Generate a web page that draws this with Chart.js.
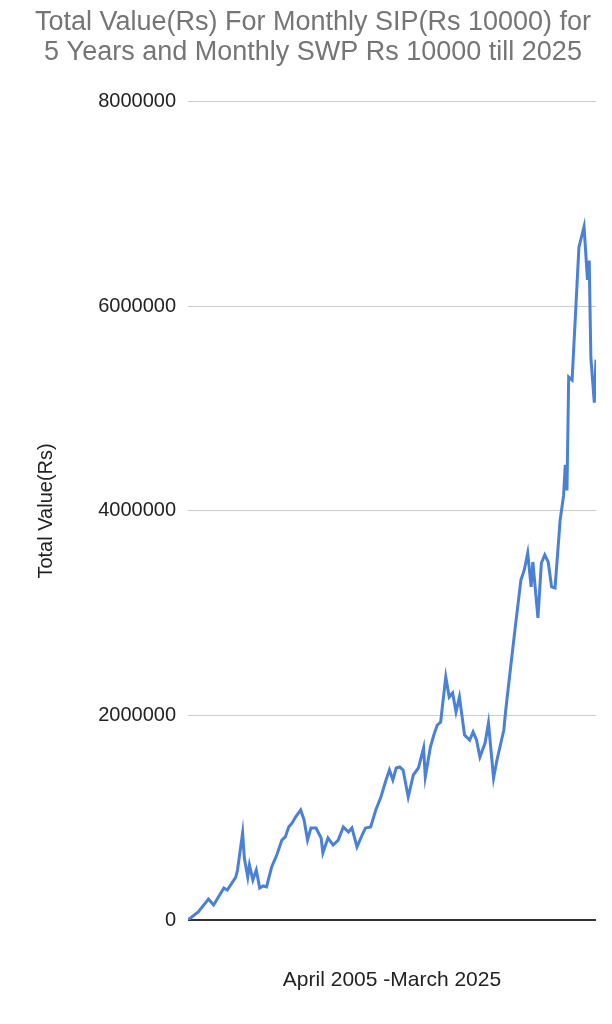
<!DOCTYPE html>
<html>
<head>
<meta charset="utf-8">
<script src="https://cdn.jsdelivr.net/npm/chart.js@4"></script>
<style>
  html, body { margin: 0; padding: 0; background: #fff; }
  #wrap { width: 612px; height: 1024px; }
</style>
</head>
<body>
<div id="wrap"><canvas id="c"></canvas></div>
<script>
// months since April 2005 (0 = Apr 2005, 239 = Mar 2025)
const months = [
  0, 6, 12, 15, 21, 23, 28, 29, 32, 33, 35, 36, 38, 40, 42, 44, 46, 49, 52, 55,
  57, 59, 61, 63, 66, 68, 70, 72, 75, 78, 79, 82, 85, 88, 91, 94, 96, 99, 102, 104,
  107, 110, 113, 116, 118, 120, 122, 124, 126, 129, 132, 135, 138, 139, 142, 144, 146, 148, 151, 153,
  155, 157, 159, 162, 165, 167, 169, 171, 174, 176, 179, 181, 185, 186, 189, 192, 195, 197, 199, 201,
  202, 205, 207, 209, 211, 213, 215, 218, 220, 221, 222, 223, 225, 229, 232, 234, 235, 236, 238, 239
];

// total value (Rs)
const totalValue = [
  0, 78000, 205000, 147000, 313000, 293000, 420000, 489000, 851000, 606000,
  420000, 538000, 391000, 489000, 313000, 333000, 323000, 518000, 636000, 782000,
  812000, 910000, 949000, 1007000, 1076000, 978000, 782000, 900000, 900000, 802000,
  655000, 802000, 733000, 782000, 910000, 861000, 900000, 714000, 831000, 900000,
  910000, 1076000, 1203000, 1369000, 1467000, 1369000, 1487000, 1496000, 1467000, 1203000,
  1418000, 1487000, 1682000, 1399000, 1692000, 1809000, 1907000, 1936000, 2377000, 2181000,
  2220000, 2034000, 2181000, 1809000, 1760000, 1839000, 1760000, 1594000, 1731000, 1927000,
  1389000, 1565000, 1858000, 2034000, 2474000, 2905000, 3325000, 3423000, 3589000, 3257000,
  3501000, 2954000, 3491000, 3570000, 3501000, 3257000, 3247000, 3912000, 4150000, 4450000,
  4200000, 5310000, 5280000, 6580000, 6780000, 6260000, 6450000, 5500000, 5060000, 5480000
];

const yTicks = [0, 2000000, 4000000, 6000000, 8000000];

const titleLines = [
  'Total Value(Rs) For Monthly SIP(Rs 10000) for',
  '5 Years and Monthly SWP Rs 10000 till 2025'
];

const FONT = "'Liberation Sans', Arial, sans-serif";
const points = months.map((m, i) => ({ x: m, y: totalValue[i] }));

new Chart(document.getElementById('c'), {
  type: 'line',
  data: {
    datasets: [{
      data: points,
      borderColor: '#4a80d6',
      borderWidth: 3,
      pointRadius: 0,
      tension: 0,
      fill: false
    }]
  },
  options: {
    responsive: true,
    maintainAspectRatio: false,
    animation: false,
    layout: { padding: { left: 30, right: 16, top: 0, bottom: 0 } },
    plugins: {
      legend: { display: false },
      tooltip: { enabled: false },
      title: {
        display: true,
        text: titleLines,
        color: '#757575',
        font: { family: FONT, size: 27, weight: 'normal', lineHeight: 1.11 },
        padding: { top: 8, bottom: 34 }
      }
    },
    scales: {
      x: {
        type: 'linear',
        min: 0,
        max: 239,
        afterFit: (scale) => { scale.height = 104; },
        grid: { display: false },
        border: { display: false },
        ticks: { display: false },
        title: {
          display: true,
          text: 'April 2005 -March 2025',
          color: '#222',
          font: { family: FONT, size: 21 },
          padding: { top: 0, bottom: 31 }
        }
      },
      y: {
        min: 0,
        max: 8000000,
        afterBuildTicks: (scale) => { scale.ticks = yTicks.map(v => ({ value: v })); },
        afterFit: (scale) => { scale.width = 158; },
        border: { display: false },
        grid: {
          drawTicks: false,
          color: (ctx) => ctx.tick && ctx.tick.value === 0 ? '#333' : '#cccccc',
          lineWidth: (ctx) => ctx.tick && ctx.tick.value === 0 ? 2 : 1
        },
        ticks: {
          color: '#222',
          padding: 12,
          font: { family: FONT, size: 20 },
          callback: (v) => String(v)
        },
        title: {
          display: true,
          text: 'Total Value(Rs)',
          color: '#222',
          font: { family: FONT, size: 20 },
          padding: { top: 4, bottom: 0 }
        }
      }
    }
  }
});
</script>
</body>
</html>
